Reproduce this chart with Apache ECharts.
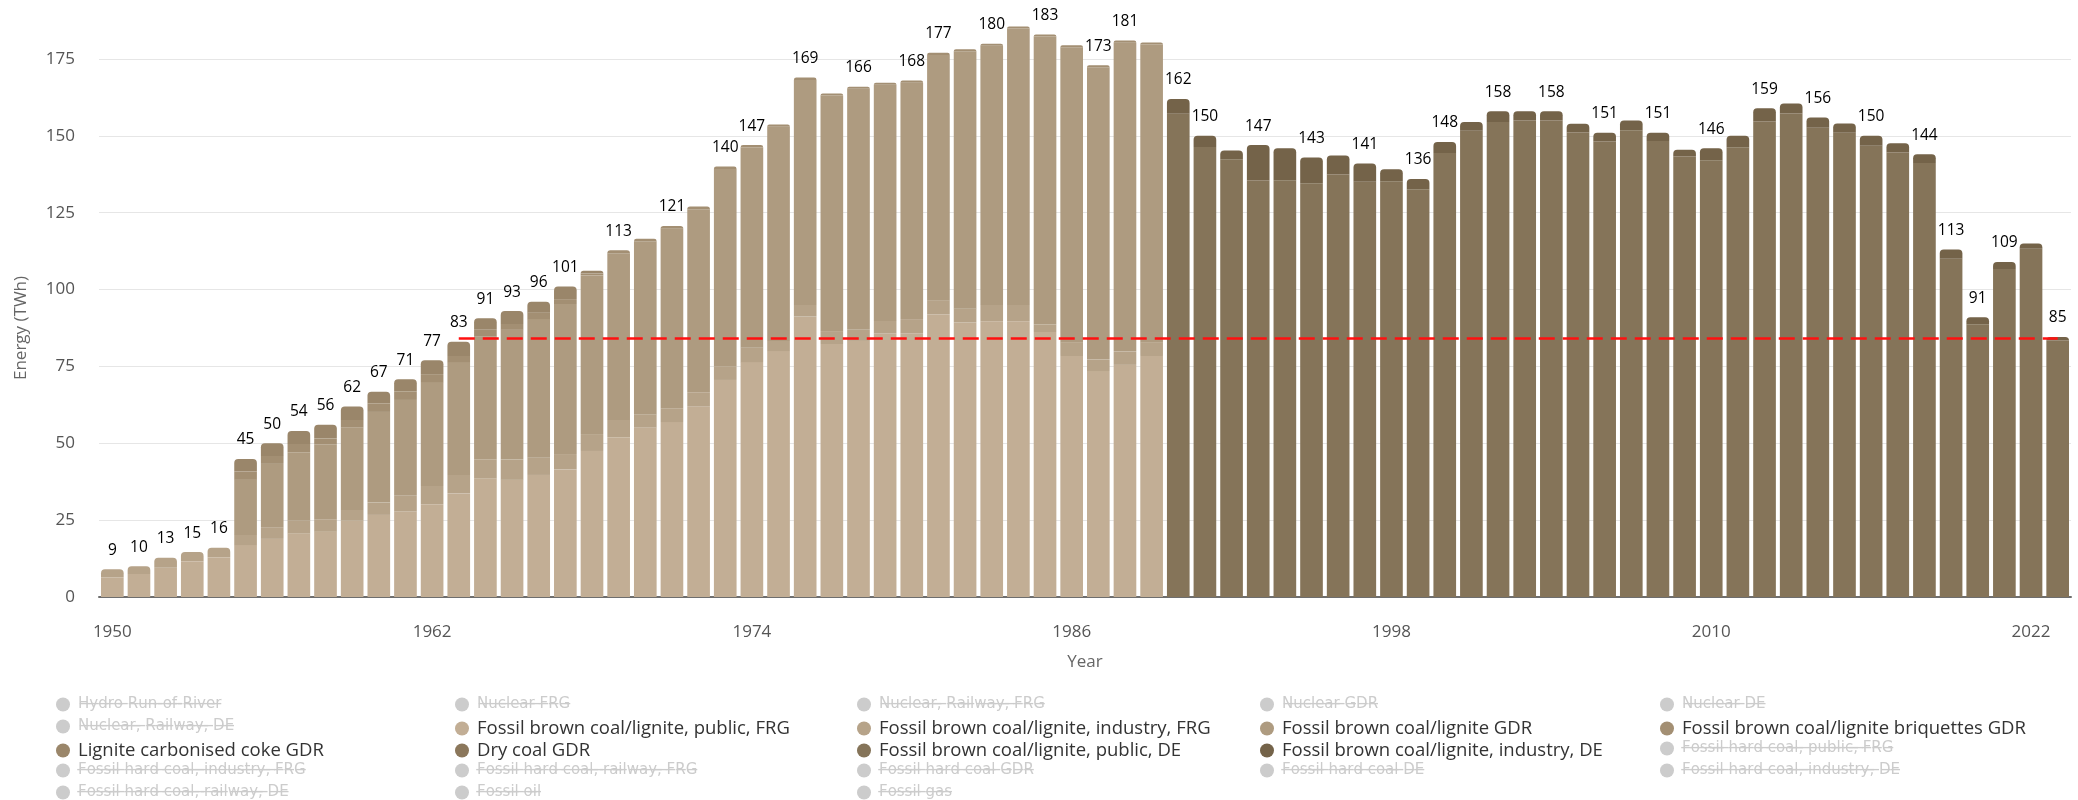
<!DOCTYPE html>
<html>
<head>
<meta charset="utf-8">
<script src="https://cdn.jsdelivr.net/npm/echarts@6/dist/echarts.min.js"></script>
<style>
html, body { margin: 0; padding: 0; background: #fff; }
#chart { width: 2078px; height: 800px; }
</style>
</head>
<body>
<div id="chart"></div>
<script>
// years 1950 - 2023
const years = Array.from({ length: 74 }, (_, i) => String(1950 + i));

// FRG / GDR era, 1950 - 1989 (TWh)
const publicFRG = [6.4, 7.5, 9.5, 11.6, 12.9, 16.9, 18.9, 20.7, 21.2, 24.8,
    26.7, 27.8, 30.2, 33.7, 38.6, 38.1, 39.7, 41.5, 47.5, 52.0,
    55.1, 56.9, 61.9, 70.6, 76.4, 80.0, 91.2, 82.3, 83.3, 85.8,
    85.8, 91.9, 89.3, 89.7, 89.7, 86.2, 78.4, 73.5, 75.5, 78.4];
const industryFRG = [2.6, 2.5, 3.3, 3.0, 3.1, 3.3, 3.8, 4.1, 4.1, 3.5,
    4.0, 5.1, 5.9, 6.0, 6.2, 6.6, 5.6, 5.0, 5.5, 5.6,
    4.3, 4.5, 4.7, 4.5, 4.7, 3.3, 3.8, 4.2, 3.6, 4.0,
    4.6, 4.5, 4.5, 5.3, 5.3, 2.5, 4.5, 3.8, 4.4, 4.5];
const lignGDR = [null, null, null, null, null, 17.9, 20.6, 22.3, 24.4, 26.9,
    29.5, 31.2, 33.8, 36.7, 39.9, 42.2, 45.1, 48.8, 51.6, 54.2,
    56.3, 58.4, 59.5, 64.1, 65.1, 69.7, 73.2, 76.6, 78.4, 76.8,
    76.9, 79.9, 83.7, 84.3, 89.9, 93.6, 95.9, 95.0, 100.4, 96.8];
const briquettesGDR = [null, null, null, null, null, 2.7, 2.6, 2.7, 1.9, 2.4,
    2.8, 2.8, 2.6, 2.0, 2.2, 1.9, 2.1, 1.6, 0.6, 1.0,
    0.8, 0.9, 0.9, 0.8, 0.8, 0.7, 0.8, 0.7, 0.7, 0.7,
    0.7, 0.7, 0.7, 0.7, 0.7, 0.7, 0.7, 0.7, 0.7, 0.7];
const cokeGDR = [null, null, null, null, null, 4.1, 4.1, 4.2, 4.4, 4.4,
    3.8, 3.9, 4.5, 4.6, 3.8, 4.2, 3.5, 4.1, 0.9];
const dryCoalGDR = [];

// unified Germany, 1990 - 2023 (TWh)
const publicDE = [157.2, 146.4, 142.4, 135.5, 135.6, 134.6, 137.4, 135.1, 135.2, 132.6,
    144.4, 151.7, 154.5, 155.0, 155.0, 151.1, 148.2, 151.8, 148.3, 143.3,
    142.1, 146.3, 154.7, 157.3, 152.6, 151.0, 146.8, 144.6, 141.2, 110.0,
    88.7, 106.7, 113.3, 83.4];
const industryDE = [4.8, 3.6, 2.8, 11.5, 10.4, 8.4, 6.2, 5.9, 3.9, 3.4,
    3.6, 2.8, 3.5, 3.0, 3.0, 2.8, 2.8, 3.2, 2.7, 2.2,
    3.9, 3.7, 4.3, 3.2, 3.4, 3.0, 3.2, 3.0, 2.8, 3.0,
    2.3, 2.3, 1.7, 1.2];

// years whose stack total is printed above the bar
const labelYears = [1950, 1951, 1952, 1953, 1954, 1955, 1956, 1957, 1958, 1959,
    1960, 1961, 1962, 1963, 1964, 1965, 1966, 1967, 1969, 1971, 1973, 1974,
    1976, 1978, 1980, 1981, 1983, 1985, 1987, 1988, 1990, 1991, 1993, 1995,
    1997, 1999, 2000, 2002, 2004, 2006, 2008, 2010, 2012, 2014, 2016, 2018,
    2019, 2020, 2021, 2023];

// reference level (dashed red line)
const refLevel = 84.2;
const refFrom = '1963';
const refTo = '2023';

// legend layout, column by column
const legendCols = [
    ['Hydro Run-of-River', 'Nuclear, Railway, DE', 'Lignite carbonised coke GDR', 'Fossil hard coal, industry, FRG', 'Fossil hard coal, railway, DE'],
    ['Nuclear FRG', 'Fossil brown coal/lignite, public, FRG', 'Dry coal GDR', 'Fossil hard coal, railway, FRG', 'Fossil oil'],
    ['Nuclear, Railway, FRG', 'Fossil brown coal/lignite, industry, FRG', 'Fossil brown coal/lignite, public, DE', 'Fossil hard coal GDR', 'Fossil gas'],
    ['Nuclear GDR', 'Fossil brown coal/lignite GDR', 'Fossil brown coal/lignite, industry, DE', 'Fossil hard coal DE'],
    ['Nuclear DE', 'Fossil brown coal/lignite briquettes GDR', 'Fossil hard coal, public, FRG', 'Fossil hard coal, industry, DE']
];

const nFRG = 40;
function early(arr) {
    let out = arr.slice();
    while (out.length < years.length) out.push(null);
    return out;
}
function late(arr) {
    let out = [];
    for (let i = 0; i < nFRG; i++) out.push(null);
    return out.concat(arr);
}

// visible series, bottom to top
const visible = [
    { name: 'Fossil brown coal/lignite, public, FRG', data: early(publicFRG), color: '#c2ae95' },
    { name: 'Fossil brown coal/lignite, industry, FRG', data: early(industryFRG), color: '#b6a389' },
    { name: 'Fossil brown coal/lignite GDR', data: early(lignGDR), color: '#ae9b80' },
    { name: 'Fossil brown coal/lignite briquettes GDR', data: early(briquettesGDR), color: '#a38f73' },
    { name: 'Lignite carbonised coke GDR', data: early(cokeGDR), color: '#9a866a' },
    { name: 'Dry coal GDR', data: early(dryCoalGDR), color: '#8b775b' },
    { name: 'Fossil brown coal/lignite, public, DE', data: late(publicDE), color: '#857459' },
    { name: 'Fossil brown coal/lignite, industry, DE', data: late(industryDE), color: '#746349' }
];
const visibleNames = visible.map(v => v.name);

// stack totals and the top segment of each bar
const totals = years.map((y, i) => visible.reduce((s, v) => s + (v.data[i] || 0), 0));
const topIdx = years.map((y, i) => {
    let t = -1;
    visible.forEach((v, k) => { if (v.data[i]) t = k; });
    return t;
});

let series = visible.map((v, k) => ({
    name: v.name,
    type: 'bar',
    stack: 'total',
    barWidth: '85%',
    clip: false,
    itemStyle: { color: v.color },
    emphasis: { disabled: true },
    data: v.data.map((val, i) => {
        if (topIdx[i] !== k) return val;
        return {
            value: val,
            itemStyle: { borderRadius: [4, 4, 0, 0] },
            label: {
                show: labelYears.indexOf(+years[i]) >= 0,
                position: 'top',
                distance: 11,
                formatter: String(Math.round(totals[i])),
                fontFamily: 'Open Sans',
                fontSize: 15.5,
                fontWeight: 500,
                color: '#000'
            }
        };
    })
}));

// hidden (deselected) series, only for the legend
let selected = {};
legendCols.flat().forEach(name => {
    if (visibleNames.indexOf(name) < 0) {
        selected[name] = false;
        series.push({ name: name, type: 'bar', stack: 'total', data: [], itemStyle: { color: '#ccc' } });
    }
});

// dashed reference line
series.push({
    type: 'line',
    data: [],
    silent: true,
    markLine: {
        symbol: 'none',
        silent: true,
        label: { show: false },
        lineStyle: { color: '#ff1010', type: [16, 8], width: 2.5 },
        data: [[{ coord: [refFrom, refLevel] }, { coord: [refTo, refLevel] }]]
    }
});

function strike(s) {
    return s.split('').map(c => c + '\u0336').join('');
}

// one legend component per entry so the 5 columns line up
const legendLeft = [56, 455, 857, 1260, 1660];
let legends = [];
legendCols.forEach((col, c) => {
    col.forEach((name, r) => {
        const off = selected[name] === false;
        legends.push({
            orient: 'horizontal',
            left: legendLeft[c],
            top: 697 + r * 22,
            padding: 0,
            data: [name],
            icon: 'circle',
            itemWidth: 14,
            itemHeight: 14,
            selected: selected,
            inactiveColor: '#cccccc',
            formatter: n => (off ? strike(n) : n),
            textStyle: {
                fontFamily: off ? 'DejaVu Sans' : 'Open Sans',
                fontSize: off ? 15 : 18.5,
                lineHeight: 14,
                color: '#333',
                padding: [0, 0, 0, 3]
            }
        });
    });
});

let myChart = echarts.init(document.getElementById('chart'));
myChart.setOption({
    animation: false,
    backgroundColor: '#fff',
    grid: {
        left: 99,
        right: 7,
        top: 59,
        bottom: 203,
        containLabel: false
    },
    legend: legends,
    xAxis: {
        type: 'category',
        data: years,
        name: 'Year',
        nameLocation: 'middle',
        nameGap: 57,
        nameTextStyle: { fontFamily: 'Open Sans', fontSize: 17, color: '#666' },
        axisLine: { lineStyle: { color: '#6e6e6e', width: 2 } },
        axisTick: { show: false },
        axisLabel: {
            interval: 11,
            margin: 27,
            fontFamily: 'Open Sans',
            fontSize: 17,
            color: '#555'
        }
    },
    yAxis: {
        type: 'value',
        min: 0,
        max: 175,
        interval: 25,
        name: 'Energy (TWh)',
        nameLocation: 'middle',
        nameGap: 69,
        nameTextStyle: { fontFamily: 'Open Sans', fontSize: 17, color: '#666' },
        axisLine: { show: false },
        axisTick: { show: false },
        splitLine: { lineStyle: { color: '#e6e6e6', width: 1 } },
        axisLabel: {
            margin: 24,
            fontFamily: 'Open Sans',
            fontSize: 17,
            color: '#555'
        }
    },
    series: series
});
</script>
</body>
</html>
